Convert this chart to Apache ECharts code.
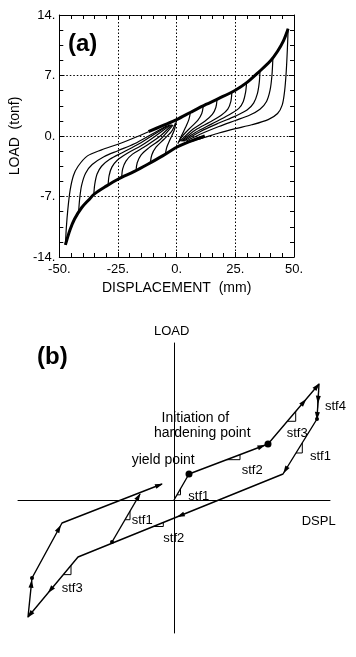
<!DOCTYPE html>
<html>
<head>
<meta charset="utf-8">
<script src="https://cdn.jsdelivr.net/npm/echarts@6.0.0/dist/echarts.min.js"></script>
<style>
  html, body { margin: 0; padding: 0; background: #fff; }
  #main { width: 356px; height: 657px; }
</style>
</head>
<body>
<div id="main"></div>
<script>
  // ---------- panel (a): hysteresis loops, displacement (mm) vs load (tonf) ----------
  const xTicks = [-50, -25, 0, 25, 50];
  const yTicks = [-14, -7, 0, 7, 14];

  // thick bands (all reloading / unloading paths overlap here)
  const upperEnvelope = [[-12, 0.5], [-6, 1.2], [0, 1.9], [6, 2.75], [12.5, 3.65], [18, 4.35], [25, 5.3],
    [30, 6.2], [35, 7.4], [40, 8.7], [43, 9.8], [45.5, 11.0], [47.5, 12.4]];
  const lowerEnvelope = [[-47.4, -12.6], [-45.5, -10.9], [-43.5, -9.6], [-40.5, -8.3], [-37.5, -7.4],
    [-35, -6.7], [-30, -5.8], [-25, -5.0], [-18, -4.1], [-12.5, -3.3], [-6, -2.3], [0, -1.3], [6, -0.6], [12, 0.0]];

  // unloading branches from the positive peaks
  const rightBranches = [
    [[47.5, 12.4], [47.2, 10.2], [46.7, 7.5], [46.0, 5.2], [45.0, 3.6], [43, 2.6], [39, 1.9], [32, 1.3], [25, 0.85], [18, 0.35], [11.5, -0.2], [5, -0.7], [0, -1.3]],
    [[41, 9.0], [40.6, 7.0], [39.8, 5.3], [38.3, 4.0], [35.5, 3.1], [31, 2.4], [25, 1.8], [18, 1.1], [10, 0.2], [4, -0.6]],
    [[35.5, 7.5], [35.2, 6.2], [34.4, 4.9], [32.8, 3.8], [30, 3.0], [25, 2.3], [18, 1.5], [10, 0.5], [3, -0.6]],
    [[29.8, 6.2], [29.4, 5.1], [28.4, 4.0], [26.5, 3.2], [22, 2.4], [15, 1.4], [8, 0.4], [2.5, -0.6]],
    [[23.5, 5.0], [23.1, 4.0], [21.8, 3.1], [19, 2.4], [14, 1.6], [8, 0.7], [2, -0.6]],
    [[17.2, 4.2], [16.7, 3.3], [15.2, 2.5], [12, 1.7], [7, 0.8], [1.5, -0.6]],
    [[11.3, 3.4], [10.7, 2.6], [9, 1.8], [6, 1.0], [2.5, 0.0], [1, -0.7]],
    [[5.8, 2.65], [5.2, 1.9], [3.8, 1.0], [2, 0.0], [0.5, -0.9]]
  ];

  // reloading branches from the negative peaks
  const leftBranches = [
    [[-47.4, -12.6], [-47.0, -10.6], [-46.4, -8.6], [-45.4, -6.3], [-44, -4.6], [-42, -3.5], [-38, -2.3], [-32, -1.6], [-25, -0.95], [-18, -0.2], [-12, 0.5]],
    [[-41.8, -8.9], [-41.3, -7.2], [-40.5, -5.7], [-38.8, -4.3], [-36, -3.3], [-31, -2.4], [-25, -1.7], [-18, -0.9], [-10, 0.3], [-4, 1.2]],
    [[-35.3, -6.8], [-34.9, -5.6], [-33.9, -4.4], [-32, -3.5], [-28.5, -2.7], [-23, -1.9], [-16, -0.9], [-9, 0.3], [-3, 1.3]],
    [[-29.2, -5.7], [-28.8, -4.6], [-27.6, -3.6], [-25.3, -2.8], [-21, -2.0], [-15, -1.1], [-8, 0.2], [-2.5, 1.3]],
    [[-23.4, -4.8], [-23, -3.8], [-21.6, -2.9], [-18.8, -2.1], [-14, -1.3], [-7, 0.0], [-2, 1.3]],
    [[-17.3, -4.0], [-16.8, -3.1], [-15.2, -2.2], [-12, -1.4], [-7, -0.4], [-1.5, 1.3]],
    [[-11.2, -3.1], [-10.6, -2.2], [-8.8, -1.3], [-5.5, -0.4], [-2, 0.6], [-0.5, 1.5]],
    [[-4.8, -2.1], [-4.2, -1.3], [-2.8, -0.4], [-1, 0.7], [0, 1.9]]
  ];

  // ---------- panel (b): schematic hysteresis rule (arbitrary units) ----------
  // O, yield, hardening, peak, stf4 end, stf1 end, stf2 end, neg peak, stf4 end, stf1 end, reload
  const modelPath = [[0, 0], [15, 26], [94, 56], [145, 116], [143, 81], [109, 26], [-96, -57],
    [-146, -117], [-142, -78], [-112, -23], [-12, 16]];
  const innerPath = [[-62, -42], [-34, 6]];
  const keyPoints = [[15, 26], [94, 56]];             // yield point, hardening point
  const smallDots = [[143, 81], [-142, -78], [-62, -42]];
  // [segment index, fraction along the segment]
  const arrowMarks = [[1, 0.92], [2, 0.7], [2, 1], [3, 0.45], [3, 0.92], [4, 0.93], [5, 0.5],
    [6, 0.55], [6, 1], [7, 0.85], [8, 0.9], [9, 1]];
  // ['main'|'inner', segment index, x1, x2] -> little slope triangles
  const slopeMarks = [['main', 0, 3, 6.5], ['main', 1, 52.7, 66], ['main', 2, 113.3, 121.7],
    ['main', 3, 143.6, 144.6], ['main', 4, 122, 128.3], ['main', 5, -20.7, -10.7],
    ['inner', 0, -49, -44], ['main', 6, -110.7, -103]];
  // [text, x, y, position, font size]
  const notes = [
    ['Initiation of', -12.5, 81.7, 'right', 14],
    ['hardening point', -20, 66.7, 'right', 14],
    ['yield point', -42.3, 40, 'right', 14],
    ['stf1', 14.3, 4, 'right', 13],
    ['stf2', 67.7, 30, 'right', 13],
    ['stf3', 112.7, 66.7, 'right', 13],
    ['stf4', 151, 94, 'right', 13],
    ['stf1', 136, 43.3, 'right', 13],
    ['stf1', -42.3, -20.8, 'right', 13],
    ['stf2', -10.7, -38.3, 'right', 13],
    ['stf3', -112.3, -88.3, 'right', 13],
    ['LOAD', -2.3, 168.3, 'inside', 13],
    ['DSPL', 127.7, -21.7, 'right', 13]
  ];

  const FONT = '"Liberation Sans", Arial, Helvetica, sans-serif';
  const INK = '#000';

  const chart = echarts.init(document.getElementById('main'), null, { renderer: 'canvas' });

  const lineA = (d, w) => ({
    type: 'line', xAxisIndex: 0, yAxisIndex: 0, data: d, smooth: 0.3,
    symbol: 'none', silent: true, lineStyle: { color: INK, width: w }
  });

  const seriesList = [];
  rightBranches.forEach(b => seriesList.push(lineA(b, 1.2)));
  leftBranches.forEach(b => seriesList.push(lineA(b, 1.2)));
  seriesList.push(lineA(upperEnvelope, 3));
  seriesList.push(lineA(lowerEnvelope, 3));

  // panel (b) helpers
  const pathOf = name => (name === 'inner' ? innerPath : modelPath);
  const lerp = (a, b, t) => [a[0] + (b[0] - a[0]) * t, a[1] + (b[1] - a[1]) * t];
  const yOn = (a, b, x) => a[1] + (x - a[0]) * (b[1] - a[1]) / (b[0] - a[0]);

  const lineB = (d, w) => ({
    type: 'line', xAxisIndex: 2, yAxisIndex: 2, data: d, symbol: 'none', silent: true,
    clip: false, lineStyle: { color: INK, width: w }
  });
  seriesList.push(lineB(modelPath, 1.4));
  seriesList.push(lineB(innerPath, 1.4));

  slopeMarks.forEach(([p, i, x1, x2]) => {
    const pts = pathOf(p);
    const a = pts[i], b = pts[i + 1];
    seriesList.push(lineB([[x1, yOn(a, b, x1)], [x2, yOn(a, b, x1)], [x2, yOn(a, b, x2)]], 1));
  });

  const arrowAt = (a, b, t) => {
    const len = Math.hypot(b[0] - a[0], b[1] - a[1]);
    const tt = Math.min(t, 1 - 3 / len);
    const ang = Math.atan2(b[1] - a[1], b[0] - a[0]) * 180 / Math.PI;
    return { value: lerp(a, b, tt), symbolRotate: ang - 90 };
  };
  const arrowData = arrowMarks.map(([i, t]) => arrowAt(modelPath[i], modelPath[i + 1], t));
  arrowData.push(arrowAt(innerPath[0], innerPath[1], 1));

  const solid = { color: INK, opacity: 1 };
  seriesList.push({
    type: 'scatter', xAxisIndex: 2, yAxisIndex: 2, data: arrowData, symbol: 'triangle',
    symbolSize: [5, 8], itemStyle: solid, silent: true, clip: false
  });
  seriesList.push({
    type: 'scatter', xAxisIndex: 2, yAxisIndex: 2, data: keyPoints, symbol: 'circle',
    symbolSize: 7, itemStyle: solid, silent: true
  });
  seriesList.push({
    type: 'scatter', xAxisIndex: 2, yAxisIndex: 2, data: smallDots, symbol: 'circle',
    symbolSize: 4, itemStyle: solid, silent: true
  });
  seriesList.push({
    type: 'scatter', xAxisIndex: 2, yAxisIndex: 2, symbolSize: 0, silent: true, clip: false,
    itemStyle: solid,
    data: notes.map(n => ({
      value: [n[1], n[2]],
      label: {
        show: true, formatter: n[0], position: n[3], distance: 0,
        color: INK, fontSize: n[4], fontFamily: FONT
      }
    }))
  });

  const boxAxis = (extra) => Object.assign({
    gridIndex: 0, type: 'value',
    axisLine: { show: true, onZero: false, lineStyle: { color: INK, width: 1 } },
    axisTick: { show: true, inside: true, length: 5, lineStyle: { color: INK } },
    minorTick: { show: true, length: 4, lineStyle: { color: INK } },
    axisLabel: { show: false },
    splitLine: { show: false }
  }, extra);

  const tickLabel = { show: true, color: INK, fontSize: 13, fontFamily: FONT, formatter: v => v + '.' };
  const dotted = { show: true, lineStyle: { color: INK, width: 1, type: [1.5, 2] } };

  chart.setOption({
    animation: false,
    backgroundColor: '#fff',
    title: [
      { text: '(a)', left: 63, top: 27, textStyle: { fontSize: 24, fontWeight: 'bold', color: INK, fontFamily: FONT } },
      { text: '(b)', left: 32, top: 340, textStyle: { fontSize: 24, fontWeight: 'bold', color: INK, fontFamily: FONT } }
    ],
    grid: [
      { left: 52, top: 15, width: 242, height: 242 },
      { left: 18, top: 343, width: 312, height: 290 }
    ],
    xAxis: [
      boxAxis({
        position: 'bottom', min: xTicks[0], max: xTicks[xTicks.length - 1], interval: 25,
        minorTick: { show: true, splitNumber: 5, length: 4, lineStyle: { color: INK } },
        axisLabel: Object.assign({ margin: 6 }, tickLabel),
        splitLine: dotted,
        name: 'DISPLACEMENT  (mm)', nameLocation: 'middle', nameGap: 24,
        nameTextStyle: { fontSize: 14, color: INK, fontFamily: FONT, verticalAlign: 'top' }
      }),
      boxAxis({
        position: 'top', min: xTicks[0], max: xTicks[xTicks.length - 1], interval: 25,
        minorTick: { show: true, splitNumber: 5, length: 4, lineStyle: { color: INK } }
      }),
      {
        gridIndex: 1, type: 'value', min: -156, max: 156,
        axisLine: { show: true, onZero: true, lineStyle: { color: INK, width: 1 } },
        axisTick: { show: false }, axisLabel: { show: false }, splitLine: { show: false }
      }
    ],
    yAxis: [
      boxAxis({
        position: 'left', min: yTicks[0], max: yTicks[yTicks.length - 1], interval: 7,
        minorTick: { show: true, splitNumber: 4, length: 4, lineStyle: { color: INK } },
        axisLabel: Object.assign({ margin: 4 }, tickLabel),
        splitLine: dotted,
        name: 'LOAD  (tonf)', nameLocation: 'middle', nameGap: 27, nameRotate: 90,
        nameTextStyle: { fontSize: 14, color: INK, fontFamily: FONT }
      }),
      boxAxis({
        position: 'right', min: yTicks[0], max: yTicks[yTicks.length - 1], interval: 7,
        minorTick: { show: true, splitNumber: 4, length: 4, lineStyle: { color: INK } }
      }),
      {
        gridIndex: 1, type: 'value', min: -133, max: 157,
        axisLine: { show: true, onZero: true, lineStyle: { color: INK, width: 1 } },
        axisTick: { show: false }, axisLabel: { show: false }, splitLine: { show: false }
      }
    ],
    series: seriesList
  });
</script>
</body>
</html>
